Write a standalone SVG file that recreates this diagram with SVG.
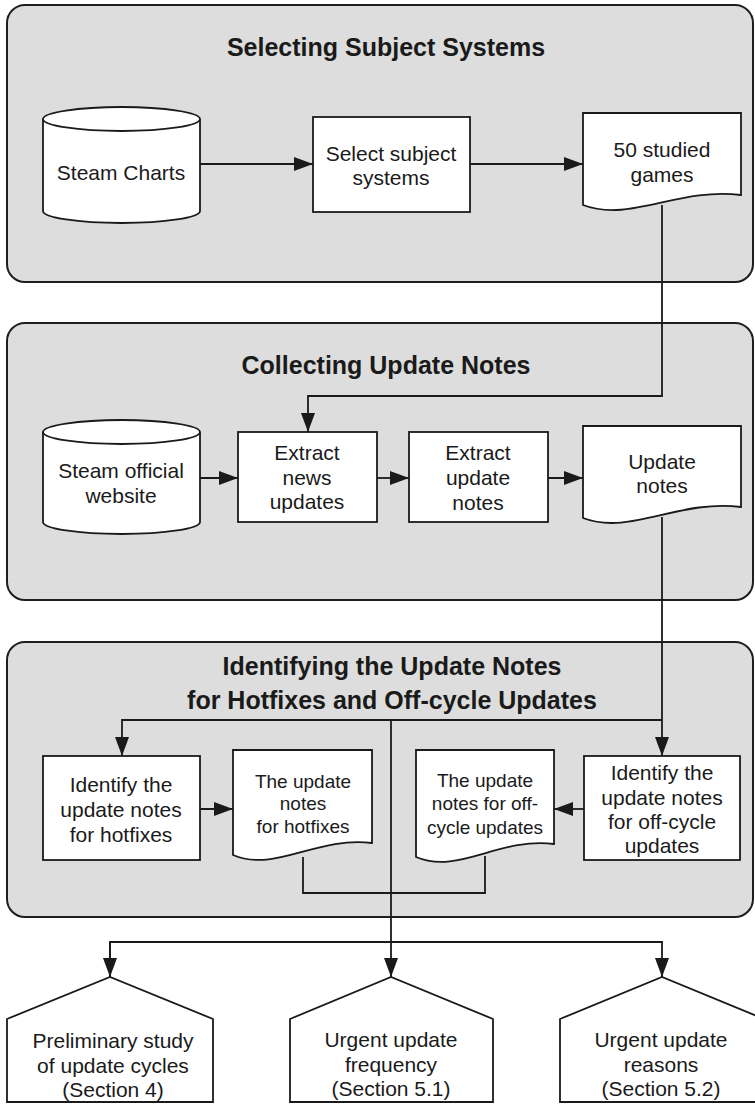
<svg xmlns="http://www.w3.org/2000/svg" width="755" height="1104" viewBox="0 0 755 1104">
<defs>
<style>
.panel{fill:#dcdddc;stroke:#1e1e1e;stroke-width:2}
.shape{fill:#ffffff;stroke:#1a1a1a;stroke-width:1.8}
.line{fill:none;stroke:#1a1a1a;stroke-width:1.8}
.t{font-family:"Liberation Sans",Arial,sans-serif;font-size:21px;fill:#1a1a1a;text-anchor:middle}
.s{font-size:19px}
.title{font-family:"Liberation Sans",Arial,sans-serif;font-size:25px;font-weight:bold;fill:#1a1a1a;text-anchor:middle}
</style>
<marker id="arr" markerUnits="userSpaceOnUse" markerWidth="19" markerHeight="14" refX="19" refY="7" orient="auto">
<path d="M0,0 L19,7 L0,14 z" fill="#1a1a1a"/>
</marker>
</defs>

<g id="panel-select">
<rect class="panel" x="7" y="5" width="746" height="277" rx="18"/>
<text class="title" x="386" y="56">Selecting Subject Systems</text>
</g>
<g id="panel-collect">
<rect class="panel" x="7" y="323" width="746" height="277" rx="18"/>
<text class="title" x="386" y="374">Collecting Update Notes</text>
</g>
<g id="panel-identify">
<rect class="panel" x="7" y="642" width="746" height="275" rx="18"/>
<text class="title" x="392" y="675">Identifying the Update Notes</text>
<text class="title" x="392" y="709">for Hotfixes and Off-cycle Updates</text>
</g>

<g id="connectors">
<line class="line" x1="200" y1="164" x2="313" y2="164" marker-end="url(#arr)"/>
<line class="line" x1="470" y1="164" x2="583" y2="164" marker-end="url(#arr)"/>
<polyline class="line" points="662,205 662,396 308,396 308,432" marker-end="url(#arr)"/>
<line class="line" x1="200" y1="478" x2="238" y2="478" marker-end="url(#arr)"/>
<line class="line" x1="377" y1="478" x2="409" y2="478" marker-end="url(#arr)"/>
<line class="line" x1="548" y1="478" x2="583" y2="478" marker-end="url(#arr)"/>
<line class="line" x1="662" y1="517" x2="662" y2="756" marker-end="url(#arr)"/>
<polyline class="line" points="662,720 122,720 122,756" marker-end="url(#arr)"/>
<line class="line" x1="200" y1="809" x2="233" y2="809" marker-end="url(#arr)"/>
<line class="line" x1="584" y1="809" x2="554" y2="809" marker-end="url(#arr)"/>
<polyline class="line" points="303,857 303,893 485,893 485,856"/>
<line class="line" x1="391" y1="720" x2="391" y2="977" marker-end="url(#arr)"/>
<polyline class="line" points="110,977 110,942 662,942 662,977" marker-end="url(#arr)"/>
<path class="line" d="M110,942 V977" marker-end="url(#arr)"/>
</g>

<g id="steam-charts">
<path class="shape" d="M43,119 V211 A78.5,12 0 0 0 200,211 V119 A78.5,12 0 0 0 43,119 Z"/>
<path class="line" d="M43,119 A78.5,12 0 0 0 200,119"/>
<text class="t" x="121" y="180">Steam Charts</text>
</g>

<g id="select-subject-systems">
<rect class="shape" x="313" y="117" width="157" height="95"/>
<text class="t" x="391" y="161">Select subject</text>
<text class="t" x="391" y="185">systems</text>
</g>

<g id="studied-games">
<path class="shape" d="M583,113 H741 V195 C678,187 630,223 583,205 Z"/>
<text class="t" x="662" y="157">50 studied</text>
<text class="t" x="662" y="182">games</text>
</g>

<g id="steam-website">
<path class="shape" d="M43,432 V522 A78.5,12 0 0 0 200,522 V432 A78.5,12 0 0 0 43,432 Z"/>
<path class="line" d="M43,432 A78.5,12 0 0 0 200,432"/>
<text class="t" x="121" y="478">Steam official</text>
<text class="t" x="121" y="503">website</text>
</g>

<g id="extract-news">
<rect class="shape" x="238" y="432" width="139" height="90"/>
<text class="t" x="307" y="460">Extract</text>
<text class="t" x="307" y="485">news</text>
<text class="t" x="307" y="509">updates</text>
</g>

<g id="extract-notes">
<rect class="shape" x="409" y="432" width="139" height="90"/>
<text class="t" x="478" y="460">Extract</text>
<text class="t" x="478" y="485">update</text>
<text class="t" x="478" y="510">notes</text>
</g>

<g id="update-notes">
<path class="shape" d="M583,426 H741 V507 C678,499 630,536 583,518 Z"/>
<text class="t" x="662" y="469">Update</text>
<text class="t" x="662" y="493">notes</text>
</g>

<g id="identify-hotfixes">
<rect class="shape" x="43" y="756" width="157" height="104"/>
<text class="t" x="121" y="792">Identify the</text>
<text class="t" x="121" y="817">update notes</text>
<text class="t" x="121" y="842">for hotfixes</text>
</g>

<g id="hotfix-notes">
<path class="shape" d="M233,750 H372 V843 C316,836 275,873 233,855 Z"/>
<text class="t s" x="303" y="788">The update</text>
<text class="t s" x="303" y="810">notes</text>
<text class="t s" x="303" y="833">for hotfixes</text>
</g>

<g id="offcycle-notes">
<path class="shape" d="M416,750 H554 V844 C499,837 458,875 416,857 Z"/>
<text class="t s" x="485" y="787">The update</text>
<text class="t s" x="485" y="810">notes for off-</text>
<text class="t s" x="485" y="834">cycle updates</text>
</g>

<g id="identify-offcycle">
<rect class="shape" x="584" y="756" width="156" height="104"/>
<text class="t" x="662" y="780">Identify the</text>
<text class="t" x="662" y="805">update notes</text>
<text class="t" x="662" y="829">for off-cycle</text>
<text class="t" x="662" y="853">updates</text>
</g>

<g id="preliminary-study">
<path class="shape" d="M7,1102 V1019 L110,977 L213,1019 V1102 Z"/>
<text class="t" x="113" y="1048">Preliminary study</text>
<text class="t" x="113" y="1073">of update cycles</text>
<text class="t" x="113" y="1097">(Section 4)</text>
</g>

<g id="urgent-frequency">
<path class="shape" d="M290,1102 V1019 L391,977 L493,1019 V1102 Z"/>
<text class="t" x="391" y="1047">Urgent update</text>
<text class="t" x="391" y="1072">frequency</text>
<text class="t" x="391" y="1096">(Section 5.1)</text>
</g>

<g id="urgent-reasons">
<path class="shape" d="M560,1102 V1019 L662,977 L764,1019 V1102 Z"/>
<text class="t" x="661" y="1047">Urgent update</text>
<text class="t" x="661" y="1072">reasons</text>
<text class="t" x="661" y="1096">(Section 5.2)</text>
</g>
</svg>
